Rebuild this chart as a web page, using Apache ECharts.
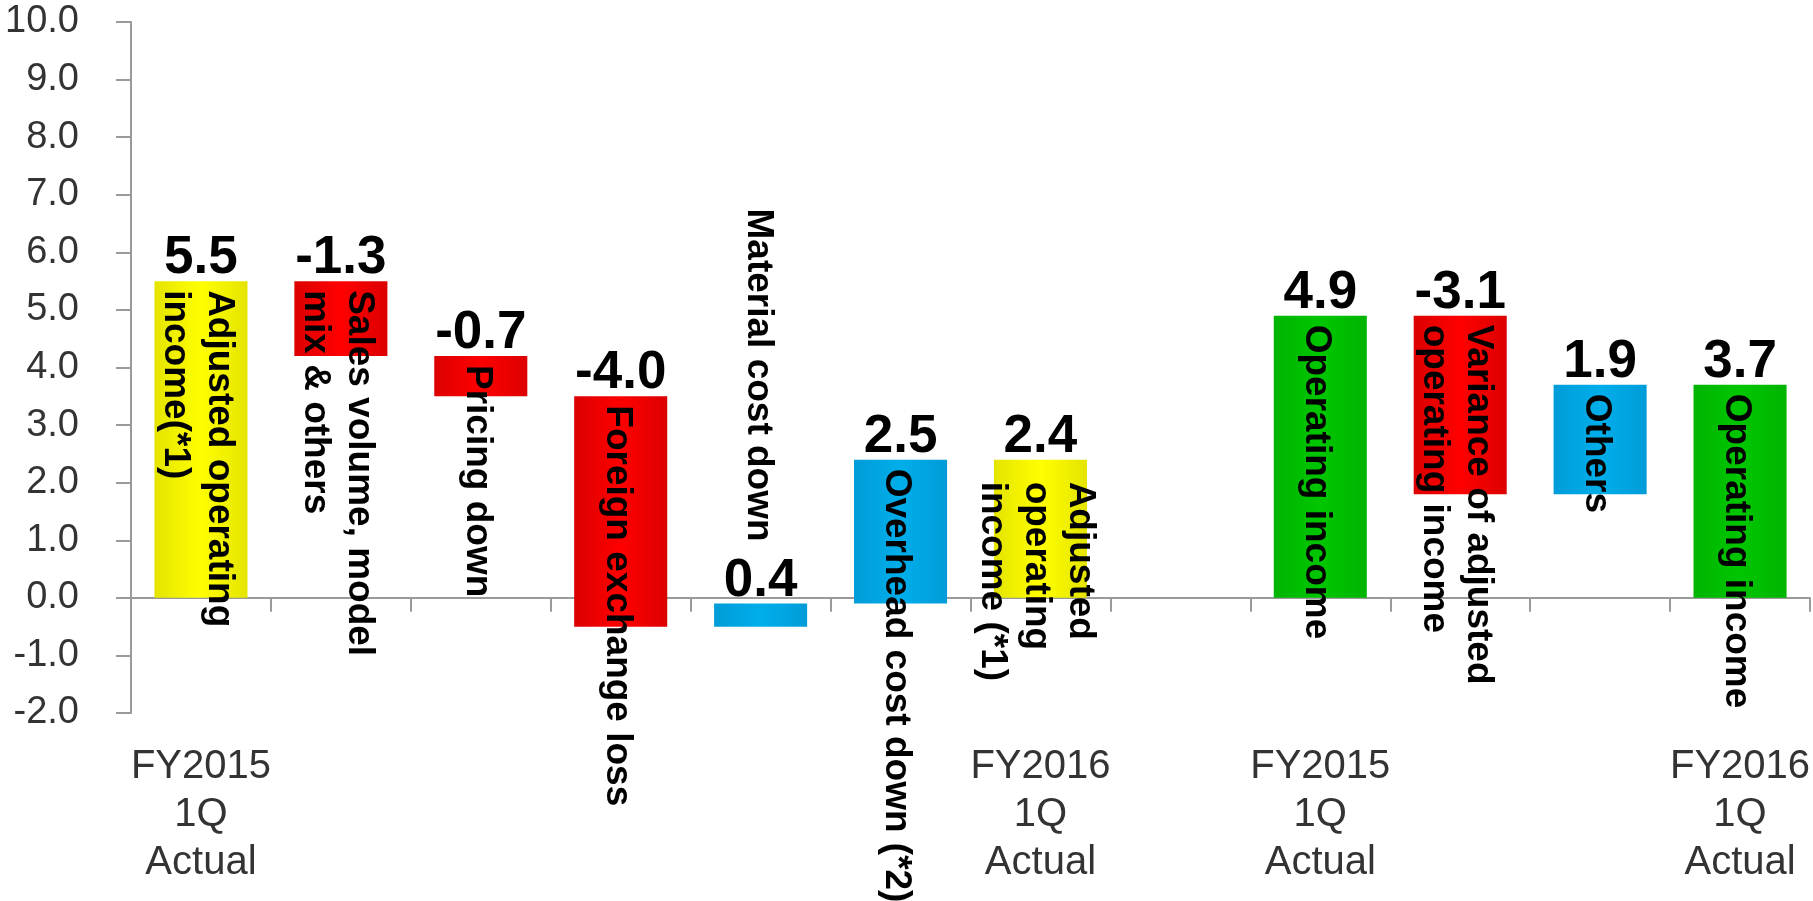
<!DOCTYPE html>
<html>
<head>
<meta charset="utf-8">
<script src="https://cdn.jsdelivr.net/npm/echarts@6/dist/echarts.min.js"></script>
<style>
  html, body { margin: 0; padding: 0; background: #ffffff; }
  #chart { width: 1813px; height: 901px; }
</style>
</head>
<body>
<div id="chart"></div>
<script>
// Bar names (written inside each bar, rotated)
const categories = [
  'Adjusted operating\nincome(*1)',
  'Sales volume, model\nmix & others',
  'Pricing down',
  'Foreign exchange loss',
  'Material cost down',
  'Overhead cost down (*2)',
  'Adjusted\noperating\nincome (*1)',
  '',
  'Operating income',
  'Variance of adjusted\noperating income',
  'Others',
  'Operating income'
];

// Period captions under the axis
const periodLabels = [
  'FY2015\n1Q\nActual', '', '', '', '', '',
  'FY2016\n1Q\nActual', '',
  'FY2015\n1Q\nActual', '', '',
  'FY2016\n1Q\nActual'
];

// Amount of each step (totals restart the running sum)
const amounts = [5.5, -1.3, -0.7, -4.0, 0.4, 2.5, 2.4, null, 4.9, -3.1, 1.9, 3.7];

// 'total' = adjusted operating income, 'result' = operating income,
// 'down' = negative factor, 'up' = positive factor
const kinds = ['total', 'down', 'down', 'down', 'up', 'up', 'total', null, 'result', 'down', 'up', 'result'];

// Value axis
const yMin = -2;
const yMax = 10;
const yStep = 1;

// Fill colours per kind: [edge, centre]
const palette = {
  total:  ['#e4e400', '#ffff00'],
  result: ['#00b400', '#00c600'],
  down:   ['#dc0000', '#ff0000'],
  up:     ['#009cd8', '#00aeea']
};

// Build floating segments: [categoryIndex, low, high, amount, kind]
const segments = [];
let running = 0;
amounts.forEach((v, i) => {
  if (v === null) return;
  let lo, hi;
  if (kinds[i] === 'total' || kinds[i] === 'result') {
    lo = Math.min(0, v); hi = Math.max(0, v);
    running = v;
  } else {
    const next = Math.round((running + v) * 10) / 10;
    lo = Math.min(running, next); hi = Math.max(running, next);
    running = next;
  }
  segments.push([i, lo, hi, v, kinds[i]]);
});

const chart = echarts.init(document.getElementById('chart'), null, { renderer: 'canvas' });

const nameFont = 'bold 37px "Liberation Sans", Arial, sans-serif';
const valueFont = 'bold 53px "Liberation Sans", Arial, sans-serif';

chart.setOption({
  animation: false,
  backgroundColor: '#ffffff',
  grid: { left: 131, right: 3, top: 22, bottom: 188, containLabel: false, outerBoundsMode: 'none' },
  xAxis: {
    type: 'category',
    data: categories,
    axisLine: { show: true, lineStyle: { color: '#9a9a9a', width: 2 } },
    axisTick: { show: true, length: 14, lineStyle: { color: '#9a9a9a', width: 2 } },
    axisLabel: {
      interval: 0,
      margin: 30,
      color: '#333333',
      fontFamily: '"Liberation Sans", Arial, sans-serif',
      fontSize: 40,
      lineHeight: 48,
      formatter: (v, idx) => periodLabels[idx]
    },
    splitLine: { show: false }
  },
  yAxis: {
    type: 'value',
    min: yMin,
    max: yMax,
    interval: yStep,
    axisLine: { show: true, lineStyle: { color: '#9a9a9a', width: 2 } },
    axisTick: { show: true, length: 15, lineStyle: { color: '#9a9a9a', width: 2 } },
    axisLabel: {
      margin: 52,
      color: '#333333',
      fontFamily: '"Liberation Sans", Arial, sans-serif',
      fontSize: 38,
      formatter: v => v.toFixed(1)
    },
    splitLine: { show: false }
  },
  series: [{
    type: 'custom',
    silent: true,
    data: segments,
    encode: { x: 0, y: [1, 2] },
    renderItem: (params, api) => {
      const idx = api.value(0);
      const lo = api.value(1);
      const hi = api.value(2);
      const amount = api.value(3);
      const kind = segments[params.dataIndex][4];
      const pTop = api.coord([idx, hi]);
      const pBot = api.coord([idx, lo]);
      const bandW = api.size([1, 0])[0];
      const bw = bandW * 0.665;
      const cx = pTop[0];
      const top = pTop[1];
      const h = Math.max(pBot[1] - top, 1);
      const cols = palette[kind];
      const fill = new echarts.graphic.LinearGradient(0, 0, 1, 0, [
        { offset: 0, color: cols[0] },
        { offset: 0.5, color: cols[1] },
        { offset: 1, color: cols[0] }
      ]);
      const name = categories[idx];
      const lines = name.split('\n').length;
      const children = [
        { type: 'rect', shape: { x: cx - bw / 2, y: top, width: bw, height: h }, style: { fill: fill } },
        {
          type: 'text', x: cx, y: top + 4, z2: 5,
          style: { text: amount.toFixed(1), font: valueFont, fill: '#000000', align: 'center', verticalAlign: 'bottom' }
        }
      ];
      // The small cost-down step carries its name above the value
      if (idx === 4) {
        children.push({
          type: 'text', x: cx - 2, y: top - 62, rotation: -Math.PI / 2, z2: 6,
          style: { text: name, font: nameFont, fill: '#000000', align: 'right', verticalAlign: 'middle', lineHeight: 44 }
        });
      } else {
        children.push({
          type: 'text', x: cx - 4, y: top + (lines > 2 ? 22 : 9), rotation: -Math.PI / 2, z2: 6,
          style: { text: name, font: nameFont, fill: '#000000', align: 'left', verticalAlign: 'middle', lineHeight: 44 }
        });
      }
      return { type: 'group', children: children };
    }
  }]
});
</script>
</body>
</html>
